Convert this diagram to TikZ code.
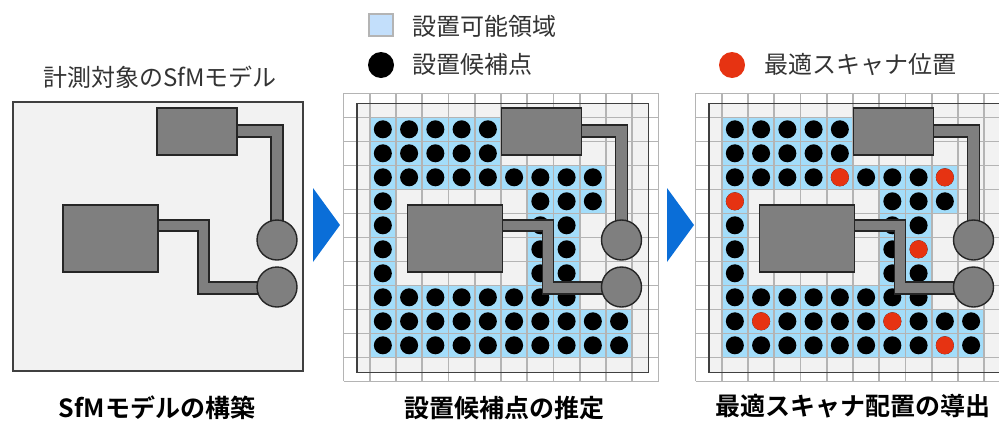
\documentclass[tikz,border=0pt]{standalone}
\usepackage{fontspec}
\setmainfont{Noto Sans CJK JP}[BoldFont={Noto Sans CJK JP Bold}]
\definecolor{panelgray}{HTML}{F2F2F2}
\definecolor{modelgray}{HTML}{7F7F7F}
\definecolor{gridgray}{HTML}{B4B4B4}
\definecolor{cellblue}{HTML}{A3DDFA}
\definecolor{legendblue}{HTML}{C3DFFB}
\definecolor{arrowblue}{HTML}{0A6ED8}
\definecolor{spotred}{HTML}{E63312}
\tikzset{
  frameline/.style={draw=black!75, line width=1.5pt, fill=panelgray},
  modelpart/.style={draw=black!85, line width=1.4pt, fill=modelgray},
  upperlabel/.style={anchor=west, text=black!80, font=\fontsize{24}{24}\selectfont, inner sep=0pt},
  toplabel/.style={text=black!80, font=\fontsize{24}{24}\selectfont, inner sep=0pt},
  caption/.style={font=\bfseries\fontsize{25}{25}\selectfont, inner sep=0pt}
}
% Machines and pipes, as in the first panel
\newcommand{\drawmodel}{
  \draw[modelpart] (237,125) -- (283,125) -- (283,225) -- (271,225) -- (271,137) -- (237,137);
  \draw[modelpart] (157,220) -- (209,220) -- (209,282) -- (262,282) -- (262,294) -- (198,294) -- (198,231) -- (157,231);
  \draw[modelpart] (157,108) rectangle (237,155);
  \draw[modelpart] (63,205) rectangle (158,272);
  \draw[modelpart] (277,240) circle (20);
  \draw[modelpart] (277,287) circle (20);
}
% Allowed cells with grid and frame
\newcommand{\drawcells}{
  \foreach \ca/\cb/\r in {1/5/1,1/5/2,1/9/3,1/1/4,7/9/4,1/1/5,7/8/5,1/1/6,7/8/6,1/1/7,7/8/7,1/8/8,1/10/9,1/10/10}
    \fill[cellblue] (\ca*26.25,\r*24) rectangle (\cb*26.25+26.25,\r*24+24);
  \foreach \c in {0,...,12}
    \draw[gridgray, line width=1.6pt] (\c*26.25,0) -- (\c*26.25,288);
  \foreach \r in {0,...,12}
    \draw[gridgray, line width=1.6pt] (0,\r*24) -- (315,\r*24);
  \draw[draw=black!75, line width=1.5pt] (13.5,10) rectangle (305,279);
  \foreach \ca/\cb/\r in {1/5/1,1/5/2,1/9/3,1/1/4,7/9/4,1/1/5,7/8/5,1/1/6,7/8/6,1/1/7,7/8/7,1/8/8,1/10/9,1/10/10}
    \foreach \c in {\ca,...,\cb}
      \fill (\c*26.25+13.1,\r*24+12) circle (9);
}

\begin{document}
\begin{tikzpicture}[x=1pt, y=-1pt]
  \clip (0,0) rectangle (999,421);

  % Legend
  \draw[gridgray, fill=legendblue, line width=2pt] (369,14) rectangle (393,36);
  \node[upperlabel] (legendarea) at (412,26) {設置可能領域};
  \fill (381,65) circle (13);
  \node[upperlabel] (legendpoint) at (412,64) {設置候補点};
  \fill[spotred] (732,65) circle (13);
  \node[upperlabel] (legendbest) at (764,64) {最適スキャナ位置};
  \node[toplabel] (modeltitle) at (160,77) {計測対象のSfMモデル};

  % Panel 1
  \draw[frameline] (13,102) rectangle (303,371);
  \drawmodel

  % Panel 2
  \fill[panelgray] (357,103) rectangle (648,372);
  \begin{scope}[xshift=343.5pt, yshift=-93.3pt]
    \drawcells
  \end{scope}
  \begin{scope}[xshift=344.5pt]
    \drawmodel
  \end{scope}

  % Panel 3
  \fill[panelgray] (709,103) rectangle (1000,372);
  \begin{scope}[xshift=695.5pt, yshift=-93.3pt]
    \drawcells
    \foreach \c/\r in {5/3,9/3,1/4,8/6,2/9,7/9,9/10}
      \fill[spotred] (\c*26.25+13.1,\r*24+12) circle (9);
  \end{scope}
  \begin{scope}[xshift=696.5pt]
    \drawmodel
  \end{scope}

  % Arrows
  \fill[arrowblue] (313,188) -- (340,225) -- (313,262) -- cycle;
  \fill[arrowblue] (667,188) -- (694,225) -- (667,262) -- cycle;

  % Captions
  \node[caption] (stepmodel) at (157,408) {SfMモデルの構築};
  \node[caption] (steppoint) at (504,408) {設置候補点の推定};
  \node[caption] (stepbest) at (853,406) {最適スキャナ配置の導出};
\end{tikzpicture}
\end{document}
